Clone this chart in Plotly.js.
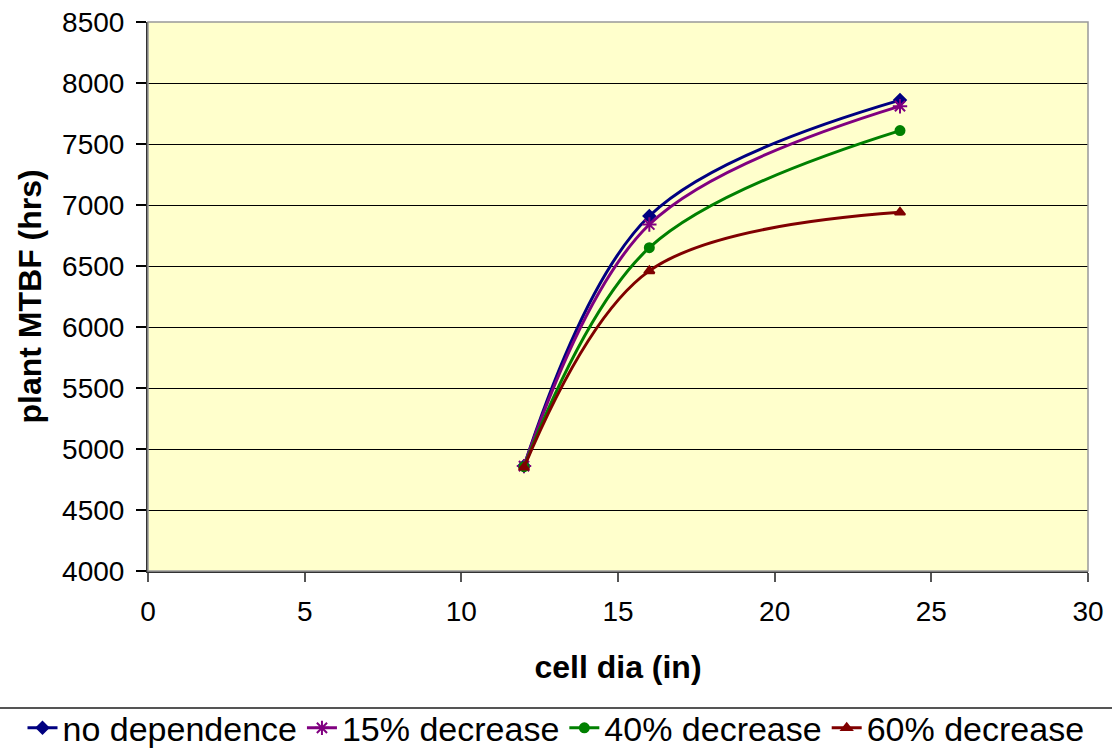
<!DOCTYPE html>
<html><head><meta charset="utf-8">
<script src="https://cdn.plot.ly/plotly-3.0.1.min.js"></script>
<style>body{margin:0;background:#fff}#chart{width:1112px;height:750px}</style>
</head><body><div id="chart"></div>
<script>
const cellDia = [12, 16, 24];
const noDependence = [4860, 6910, 7860];
const decrease15 = [4860, 6840, 7810];
const decrease40 = [4855, 6650, 7610];
const decrease60 = [4850, 6460, 6940];
const seriesNames = ["no dependence", "15% decrease", "40% decrease", "60% decrease"];
const seriesValues = [noDependence, decrease15, decrease40, decrease60];
const colors = ["#000080", "#800080", "#008000", "#800000"];
const symbols = ["diamond", "asterisk-open", "circle", "triangle-up"];
const sizes = [9, 12, 9, 9];

const traces = seriesValues.map((v, i) => ({
  x: cellDia, y: v, name: seriesNames[i], type: "scatter", mode: "lines+markers",
  line: {color: colors[i], width: 3, shape: "spline", smoothing: 1},
  marker: {color: colors[i], symbol: symbols[i], size: sizes[i], line: {color: colors[i], width: 2}}
}));

const X0 = 148 / 1112, X1 = 1088 / 1112;
const layout = {
  width: 1112, height: 750,
  margin: {l: 0, r: 0, t: 22, b: 179},
  paper_bgcolor: "#ffffff", plot_bgcolor: "#FFFFCC",
  font: {family: "Liberation Sans, Arial, sans-serif", color: "#000"},
  xaxis: {domain: [X0, X1], range: [0, 30], dtick: 5, tick0: 0, showgrid: false, zeroline: false,
    showline: true, linecolor: "#333", linewidth: 2, ticks: "outside", ticklen: 9, tickcolor: "#555", tickwidth: 2,
    ticklabelstandoff: 5,
    tickfont: {size: 28}, title: {text: "<b>cell dia (in)</b>", font: {size: 32}, standoff: 30}},
  yaxis: {range: [4000, 8500], dtick: 500, tick0: 4000, showgrid: true, gridcolor: "#000", gridwidth: 1.2, zeroline: false,
    showline: true, linecolor: "#333", linewidth: 2, ticks: "outside", ticklen: 10, tickcolor: "#000", tickwidth: 1.5,
    ticklabelstandoff: 6, tickfont: {size: 28}},
  annotations: [
    {text: "<b>plant MTBF (hrs)</b>", textangle: -90, xref: "paper", yref: "paper", x: 29 / 1112, y: 0.5,
     xanchor: "center", yanchor: "middle", showarrow: false, font: {size: 32}}
  ],
  showlegend: true,
  legend: {orientation: "h", x: 0.5, xanchor: "center", xref: "container", y: 0.029, yref: "container", yanchor: "middle",
    font: {size: 34}, itemwidth: 30, tracegroupgap: 0, bgcolor: "rgba(0,0,0,0)"},
  shapes: [
    {type: "rect", xref: "paper", yref: "paper", x0: X0, x1: X1, y0: 0, y1: 1, line: {color: "#999", width: 1.5}},
    {type: "line", xref: "paper", yref: "paper", x0: 0, x1: 1, y0: -0.2495, y1: -0.2495, line: {color: "#555", width: 2}}
  ]
};
Plotly.newPlot("chart", traces, layout, {displayModeBar: false});
</script></body></html>
